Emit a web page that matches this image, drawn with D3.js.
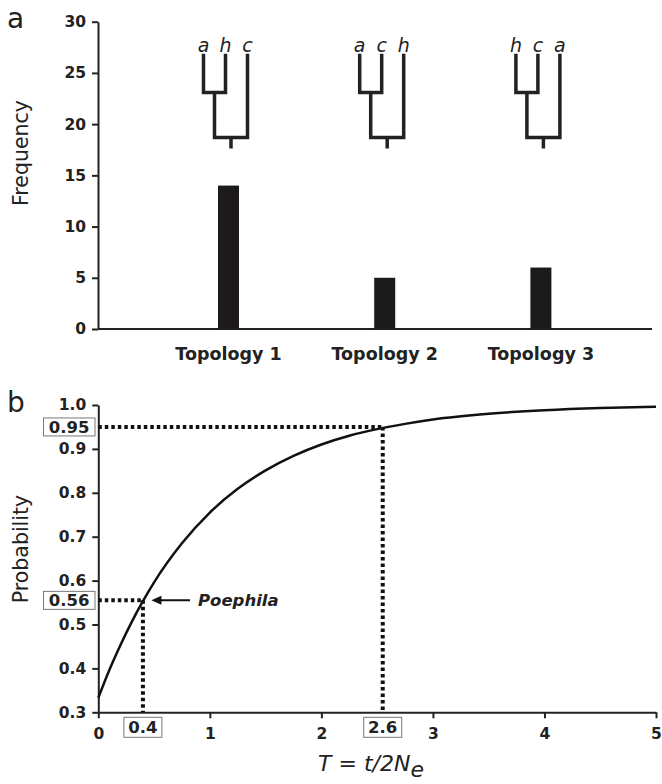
<html>
<head>
<script src="https://d3js.org/d3.v7.min.js"></script>
<style>
body { margin: 0; background: #fff; }
svg { display: block; font-family: 'DejaVu Sans', Verdana, sans-serif; }
.axis path, .axis line { stroke: #222; stroke-width: 2; }
.axis text { font-family: 'DejaVu Sans', Verdana, sans-serif; font-size: 15.5px; font-weight: bold; fill: #222; }
.tree { fill: none; stroke: #222; stroke-width: 3.5; stroke-linecap: square; }
.drop { stroke: #111; stroke-width: 4; stroke-dasharray: 3.5,3; }
.box { fill: #fff; stroke: #777; stroke-width: 1; }
.boxlabel { font-size: 16.5px; font-weight: bold; fill: #222; }
</style>
</head>
<body>
<div id="plot"></div>
<script>

// panel a: gene tree topologies
var topologies = ["Topology 1", "Topology 2", "Topology 3"];
var frequencies = [14, 5, 6];
var leafOrders = [["a", "h", "c"], ["a", "c", "h"], ["h", "c", "a"]];
var freqTicks = [0, 5, 10, 15, 20, 25, 30];

// panel b: probability curve
var tValues = [0, 0.1, 0.2, 0.3, 0.4, 0.5, 0.75, 1, 1.25, 1.5, 1.75, 2, 2.25, 2.5, 2.75, 3, 3.5, 4, 4.5, 5];
var probValues = [0.333, 0.397, 0.454, 0.506, 0.553, 0.596, 0.685, 0.755, 0.809, 0.851, 0.884, 0.910, 0.930, 0.945, 0.957, 0.967, 0.980, 0.988, 0.993, 0.996];
var probTicks = [0.3, 0.4, 0.5, 0.6, 0.7, 0.8, 0.9, 1.0];
var tTicks = [0, 1, 2, 3, 4, 5];
var markerT = [0.4, 2.55];
var markerP = [0.555, 0.95];
var markerTLabels = ["0.4", "2.6"];
var markerPLabels = ["0.56", "0.95"];

var width = 662, height = 784;
var svg = d3.select("#plot").append("svg").attr("width", width).attr("height", height);

// ---------- panel a ----------
var ax0 = 98, ax1 = 652;
var yA = d3.scaleLinear().domain([0, 30]).range([329, 21.7]);
var xA = d3.scalePoint().domain(topologies).range([150.4, 619]).padding(0.5);
var barWidth = 21;

svg.append("g").attr("class", "axis")
  .attr("transform", "translate(" + ax0 + ",0)")
  .call(d3.axisLeft(yA).tickValues(freqTicks).tickSize(6).tickSizeOuter(0).tickPadding(6));

svg.append("line")
  .attr("x1", ax0).attr("x2", ax1).attr("y1", yA(0)).attr("y2", yA(0))
  .style("stroke", "#222").style("stroke-width", 2);

svg.selectAll("rect.bar").data(frequencies).enter()
  .append("rect").attr("class", "bar")
  .attr("x", function (d, i) { return xA(topologies[i]) - barWidth / 2; })
  .attr("y", function (d) { return yA(d); })
  .attr("width", barWidth)
  .attr("height", function (d) { return yA(0) - yA(d); })
  .style("fill", "#1c1a1b");

svg.selectAll("text.topo").data(topologies).enter()
  .append("text").attr("class", "topo")
  .attr("x", function (d) { return xA(d); })
  .attr("y", 360)
  .attr("text-anchor", "middle")
  .style("font-size", "17.5px").style("font-weight", "bold").style("fill", "#222")
  .text(function (d) { return d; });

// trees: ((x,y),z) drawn above each bar
var leafDx = [-25, -3, 19];
var leafTop = 26.7, innerY = 23.1, rootY = 18.7, stemY = 17.8;
leafOrders.forEach(function (leaves, i) {
  var cx = xA(topologies[i]);
  var l0 = cx + leafDx[0], l1 = cx + leafDx[1], l2 = cx + leafDx[2];
  var inner = (l0 + l1) / 2, root = (inner + l2) / 2;
  var p = d3.path();
  p.moveTo(l0, yA(leafTop)); p.lineTo(l0, yA(innerY)); p.lineTo(l1, yA(innerY)); p.lineTo(l1, yA(leafTop));
  p.moveTo(inner, yA(innerY)); p.lineTo(inner, yA(rootY)); p.lineTo(l2, yA(rootY)); p.lineTo(l2, yA(leafTop));
  p.moveTo(root, yA(rootY)); p.lineTo(root, yA(stemY));
  svg.append("path").attr("class", "tree").attr("d", p.toString());
  svg.selectAll(null).data(leaves).enter()
    .append("text")
    .attr("x", function (d, j) { return cx + leafDx[j]; })
    .attr("y", yA(leafTop) - 4)
    .attr("text-anchor", "middle")
    .style("font-size", "19px").style("font-style", "italic").style("fill", "#222")
    .text(function (d) { return d; });
});

svg.append("text").attr("transform", "translate(28,153) rotate(-90)")
  .attr("text-anchor", "middle").style("font-size", "20.5px").style("fill", "#222")
  .text("Frequency");
svg.append("text").attr("x", 7).attr("y", 28).style("font-size", "28px").style("fill", "#222").text("a");

// ---------- panel b ----------
var xB = d3.scaleLinear().domain([0, 5]).range([98.3, 656]);
var yB = d3.scaleLinear().domain([0.3, 1.0]).range([712.3, 405]);

svg.append("g").attr("class", "axis")
  .attr("transform", "translate(" + xB(0) + ",0)")
  .call(d3.axisLeft(yB).tickValues(probTicks).tickFormat(d3.format(".1f")).tickSize(6).tickSizeOuter(0).tickPadding(6));
svg.append("g").attr("class", "axis")
  .attr("transform", "translate(0," + yB(0.3) + ")")
  .call(d3.axisBottom(xB).tickValues(tTicks).tickFormat(d3.format("d")).tickSize(6).tickSizeOuter(0).tickPadding(10));

var curve = tValues.map(function (t, i) { return [t, probValues[i]]; });
svg.append("path").datum(curve)
  .attr("d", d3.line().x(function (d) { return xB(d[0]); }).y(function (d) { return yB(d[1]); }).curve(d3.curveMonotoneX))
  .style("fill", "none").style("stroke", "#111").style("stroke-width", 2.5);

markerT.forEach(function (t, i) {
  var mx = xB(t), my = yB(markerP[i]);
  svg.append("line").attr("class", "drop").attr("x1", xB(0)).attr("x2", mx).attr("y1", my).attr("y2", my);
  svg.append("line").attr("class", "drop").attr("x1", mx).attr("x2", mx).attr("y1", my).attr("y2", yB(0.3));
  // boxed values on the axes
  svg.append("rect").attr("class", "box").attr("x", 43.5).attr("y", my - 9).attr("width", 51.5).attr("height", 18);
  svg.append("text").attr("class", "boxlabel").attr("x", 69.2).attr("y", my + 6).attr("text-anchor", "middle").text(markerPLabels[i]);
  svg.append("rect").attr("class", "box").attr("x", mx - 19).attr("y", yB(0.3) + 5).attr("width", 38).attr("height", 20);
  svg.append("text").attr("class", "boxlabel").attr("x", mx).attr("y", yB(0.3) + 21).attr("text-anchor", "middle").text(markerTLabels[i]);
});

// Poephila arrow
var ay = yB(markerP[0]), tipX = xB(markerT[0]) + 8.5;
svg.append("line").attr("x1", tipX + 6).attr("x2", 190).attr("y1", ay).attr("y2", ay)
  .style("stroke", "#111").style("stroke-width", 2);
svg.append("path").attr("d", "M" + tipX + "," + ay + "L" + (tipX + 10) + "," + (ay - 4.5) + "L" + (tipX + 10) + "," + (ay + 4.5) + "Z")
  .style("fill", "#111");
svg.append("text").attr("x", 198).attr("y", ay + 5.5)
  .style("font-size", "16.5px").style("font-weight", "bold").style("font-style", "italic").style("fill", "#222")
  .text("Poephila");

svg.append("text").attr("transform", "translate(28,549) rotate(-90)")
  .attr("text-anchor", "middle").style("font-size", "20.5px").style("fill", "#222")
  .text("Probability");
svg.append("text").attr("x", 7).attr("y", 412).style("font-size", "28px").style("fill", "#222").text("b");

var xt = svg.append("text").attr("x", 371).attr("y", 771).attr("text-anchor", "middle")
  .style("font-size", "22px").style("font-style", "italic").style("fill", "#222");
xt.append("tspan").text("T = t/2N");
xt.append("tspan").attr("dy", 6).text("e");

</script>
</body>
</html>
